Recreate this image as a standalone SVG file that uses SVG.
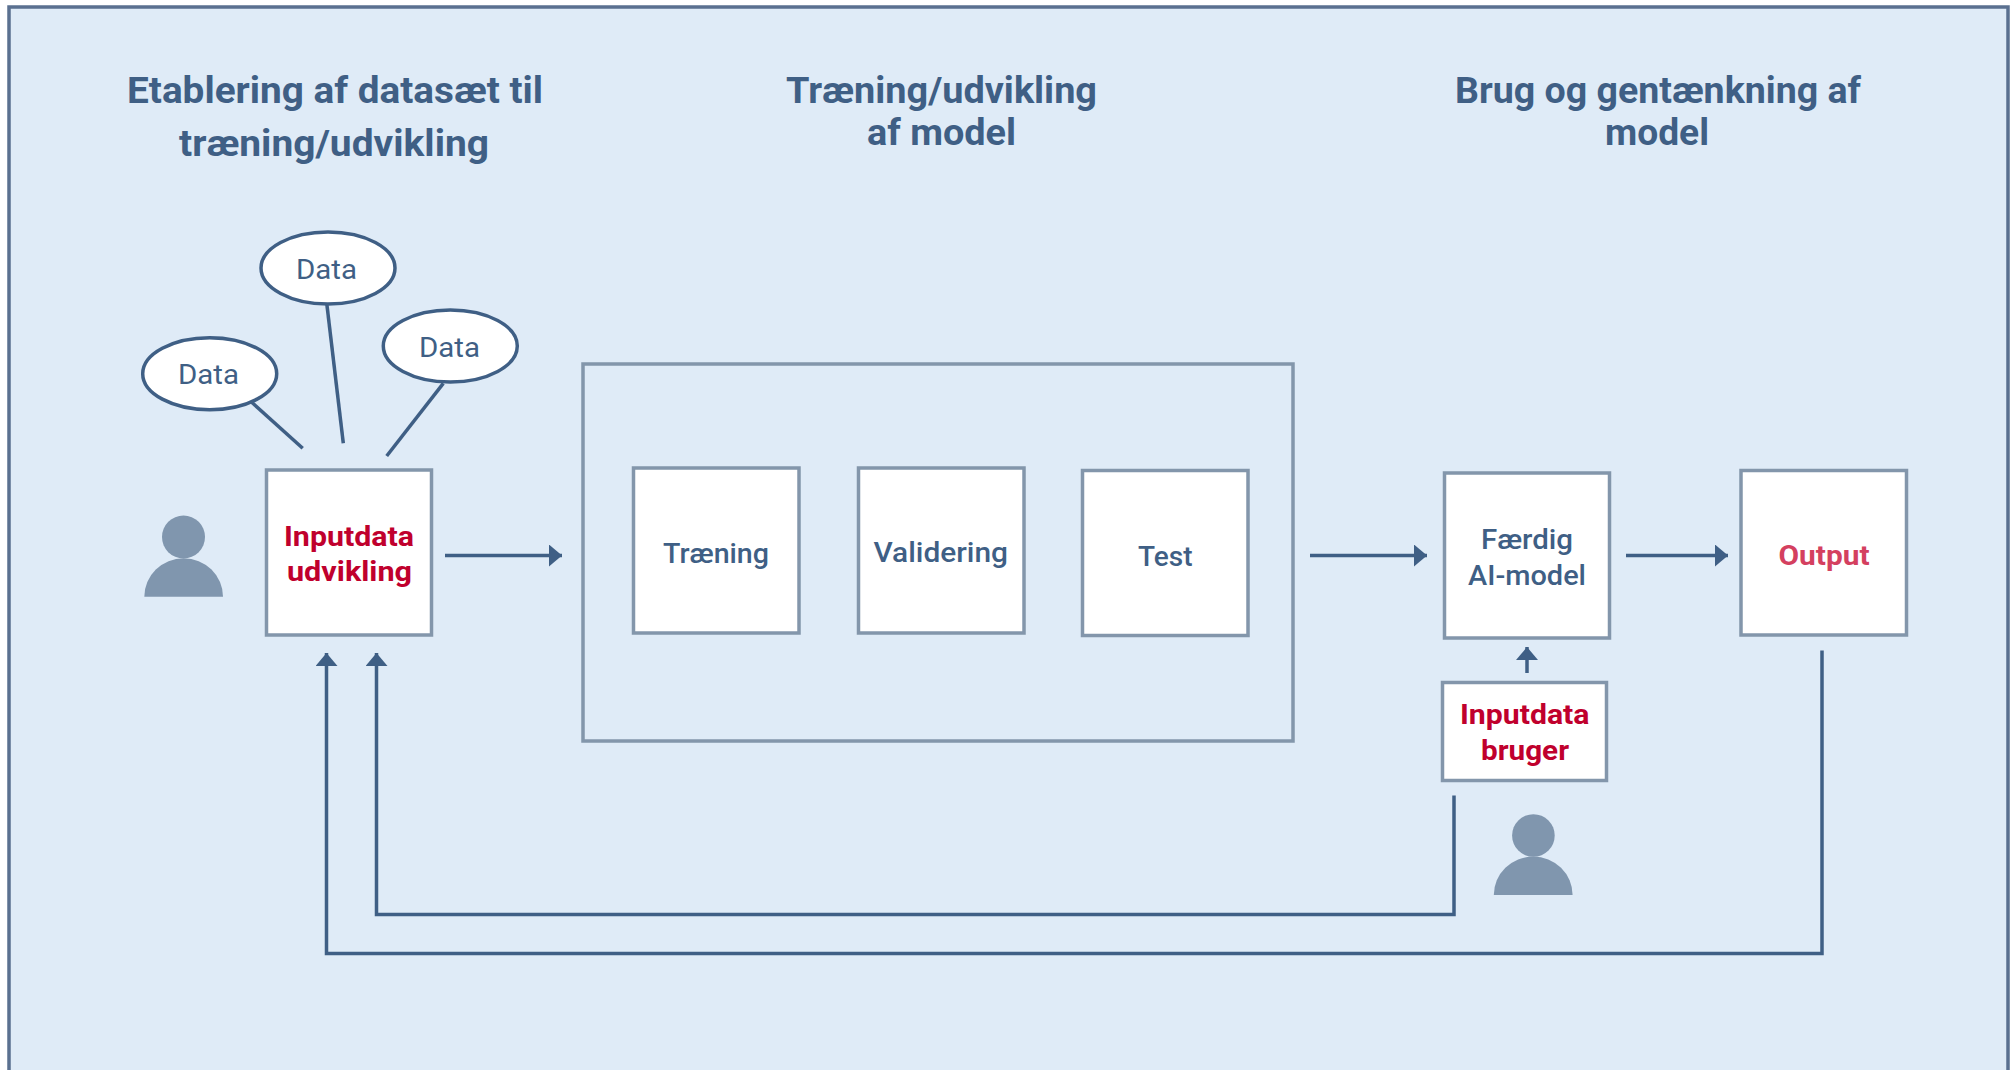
<svg xmlns="http://www.w3.org/2000/svg" width="2015" height="1070" viewBox="0 0 2015 1070">
<style>
text{font-family:Roboto,"Liberation Sans",sans-serif;}
.h{font-size:37.5px;font-weight:700;fill:#3f5f85;}
.r{font-size:28px;font-weight:700;fill:#c0002d;}
.n{font-size:28px;font-weight:500;fill:#3f5f85;}
.d{font-size:28px;font-weight:400;fill:#3f5f85;}
.box{fill:#fff;stroke:#8396ab;stroke-width:3.5;}
.ell{fill:#fff;stroke:#3f5f85;stroke-width:3.5;}
.person{fill:#8096ae;}
.c{fill:none;stroke:#3f5f85;stroke-width:3.5;}
</style>
<defs>
<marker id="a" markerUnits="userSpaceOnUse" markerWidth="13" markerHeight="22" refX="13" refY="11" orient="auto"><path d="M0 0L13 11L0 22Z" fill="#3f5f85"/></marker>
</defs>
<rect x="0" y="0" width="2015" height="1070" fill="#fff"/>
<rect id="panel" x="9" y="7" width="1999" height="1075" fill="#dfebf7" stroke="#5a7090" stroke-width="3.5"/>
<g id="heading1">
<text class="h" x="127" y="102.5" textLength="416" lengthAdjust="spacingAndGlyphs">Etablering af datasæt til</text>
<text class="h" x="179" y="155.5" textLength="310" lengthAdjust="spacingAndGlyphs">træning/udvikling</text>
</g>
<g id="heading2">
<text class="h" x="786" y="102.5" textLength="311" lengthAdjust="spacingAndGlyphs">Træning/udvikling</text>
<text class="h" x="867" y="145" textLength="149" lengthAdjust="spacingAndGlyphs">af model</text>
</g>
<g id="heading3">
<text class="h" x="1455" y="102.5" textLength="406" lengthAdjust="spacingAndGlyphs">Brug og gentænkning af</text>
<text class="h" x="1605" y="145" textLength="104" lengthAdjust="spacingAndGlyphs">model</text>
</g>
<g id="connectors">
<path class="c" d="M251.7 402.3L302.7 448.3"/>
<path class="c" d="M326.7 303L343.3 443.3"/>
<path class="c" d="M443.3 383.3L386.7 456"/>
<path class="c" d="M445 555.5H562" marker-end="url(#a)"/>
<path class="c" d="M1310 555.5H1427" marker-end="url(#a)"/>
<path class="c" d="M1626 555.5H1728" marker-end="url(#a)"/>
<path class="c" d="M1527 673V647" marker-end="url(#a)"/>
<path class="c" d="M1454 795.5V914.5H376.5V653" marker-end="url(#a)"/>
<path class="c" d="M1822 650.5V953.5H326.5V653" marker-end="url(#a)"/>
</g>
<g id="data1"><ellipse class="ell" cx="209.7" cy="373.7" rx="67" ry="36"/><text class="d" x="178" y="384" textLength="61" lengthAdjust="spacingAndGlyphs">Data</text></g>
<g id="data2"><ellipse class="ell" cx="328" cy="268" rx="67" ry="36"/><text class="d" x="296" y="278.5" textLength="61" lengthAdjust="spacingAndGlyphs">Data</text></g>
<g id="data3"><ellipse class="ell" cx="450.3" cy="346" rx="67" ry="36"/><text class="d" x="419" y="357" textLength="61" lengthAdjust="spacingAndGlyphs">Data</text></g>
<g id="person1"><circle class="person" cx="183.5" cy="537" r="21.5"/><path class="person" d="M144.3 596.7A39.3 38.4 0 0 1 223 596.7Z"/></g>
<g id="inputdata-udvikling"><rect class="box" x="266.5" y="470" width="165" height="165"/>
<text class="r" x="284" y="546" textLength="130" lengthAdjust="spacingAndGlyphs">Inputdata</text>
<text class="r" x="287" y="581" textLength="125" lengthAdjust="spacingAndGlyphs">udvikling</text></g>
<g id="model-frame"><rect x="583" y="364" width="710" height="377" fill="none" stroke="#8396ab" stroke-width="3.5"/></g>
<g id="traening"><rect class="box" x="633.5" y="468" width="165.5" height="165"/><text class="n" x="663" y="562.5" textLength="106" lengthAdjust="spacingAndGlyphs">Træning</text></g>
<g id="validering"><rect class="box" x="858.5" y="468" width="165.5" height="165"/><text class="n" x="873.5" y="562" textLength="134.5" lengthAdjust="spacingAndGlyphs">Validering</text></g>
<g id="test"><rect class="box" x="1082.5" y="470.5" width="165.5" height="165"/><text class="n" x="1138" y="565.5" textLength="54.5" lengthAdjust="spacingAndGlyphs">Test</text></g>
<g id="faerdig"><rect class="box" x="1444.5" y="473" width="165" height="165"/>
<text class="n" x="1481" y="549" textLength="92" lengthAdjust="spacingAndGlyphs">Færdig</text>
<text class="n" x="1468" y="585" textLength="118" lengthAdjust="spacingAndGlyphs">AI-model</text></g>
<g id="output"><rect class="box" x="1741" y="470.5" width="165.5" height="164.5"/>
<text class="r" style="fill:#d4405f" x="1778.5" y="564.5" textLength="91" lengthAdjust="spacingAndGlyphs">Output</text></g>
<g id="inputdata-bruger"><rect class="box" x="1442.5" y="682.5" width="164" height="98"/>
<text class="r" x="1460" y="723.5" textLength="129.5" lengthAdjust="spacingAndGlyphs">Inputdata</text>
<text class="r" x="1481" y="759.5" textLength="88" lengthAdjust="spacingAndGlyphs">bruger</text></g>
<g id="person2"><ellipse class="person" cx="1533.4" cy="835.5" rx="21.3" ry="21.3"/><path class="person" d="M1493.8 895A39.4 38.5 0 0 1 1572.6 895Z"/></g>
</svg>
